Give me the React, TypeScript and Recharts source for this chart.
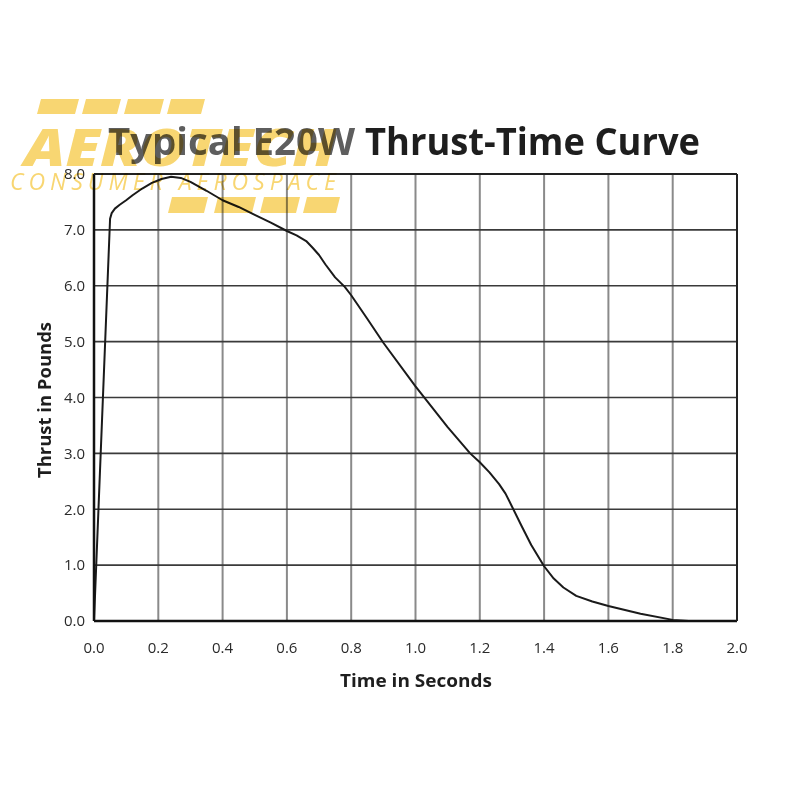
import React from "react";
import { LineChart, Line, XAxis, YAxis, CartesianGrid } from "recharts";

const timeSeconds = [0, 0.05, 0.055, 0.065, 0.08, 0.1, 0.12, 0.15, 0.18, 0.21, 0.24, 0.27, 0.3, 0.35, 0.4, 0.45, 0.5, 0.55, 0.6, 0.63, 0.66, 0.68, 0.7, 0.72, 0.75, 0.78, 0.8, 0.85, 0.9, 1.0, 1.1, 1.17, 1.2, 1.23, 1.26, 1.28, 1.3, 1.33, 1.36, 1.4, 1.43, 1.46, 1.5, 1.55, 1.6, 1.7, 1.8, 1.85, 1.9];
const thrustPounds = [0, 7.2, 7.3, 7.38, 7.45, 7.53, 7.62, 7.74, 7.84, 7.91, 7.95, 7.93, 7.86, 7.7, 7.53, 7.41, 7.27, 7.13, 6.98, 6.9, 6.8, 6.68, 6.55, 6.38, 6.15, 5.98, 5.83, 5.41, 4.98, 4.2, 3.47, 3.0, 2.84, 2.66, 2.45, 2.28, 2.05, 1.7, 1.36, 0.98, 0.76, 0.6, 0.45, 0.35, 0.27, 0.13, 0.02, 0, 0];
const xTicks = [0, 0.2, 0.4, 0.6, 0.8, 1.0, 1.2, 1.4, 1.6, 1.8, 2.0];
const yTicks = [0, 1, 2, 3, 4, 5, 6, 7, 8];

const titleDark = "Typical E20W";
const titleRest = "Thrust-Time Curve";
const xTitle = "Time in Seconds";
const yTitle = "Thrust in Pounds";
const logoWord = "AEROTECH";
const logoSub = "CONSUMER AEROSPACE";

const data = timeSeconds.map((t, i) => ({ t, thrust: thrustPounds[i] }));

const FONT = "'Open Sans', 'DejaVu Sans', sans-serif";
const LOGO = "#f8d672";

function dash(x1: number, x2: number, y1: number, y2: number, slant: number) {
  return `${x1 + slant},${y1} ${x2 + slant},${y1} ${x2},${y2} ${x1},${y2}`;
}

export default function App() {
  const topDashes = [[37, 75], [82, 117], [124, 160], [167, 201]];
  const botDashes = [[168, 204], [214, 252], [260, 296], [303, 336]];
  return (
    <div style={{ position: "absolute", left: 0, top: 0, width: 800, height: 800, background: "#fff" }}>
      <LineChart
        width={800}
        height={800}
        data={data}
        margin={{ top: 174, right: 63, left: 34, bottom: 139 }}
      >
        <CartesianGrid horizontal={false} vertical={true} stroke="#8a8a8a" strokeWidth={2} verticalValues={xTicks} />
        <CartesianGrid horizontal={true} vertical={false} stroke="#3a3a3a" strokeWidth={1.6} horizontalValues={yTicks} />
        <XAxis
          type="number"
          dataKey="t"
          domain={[0, 2]}
          ticks={xTicks}
          tickFormatter={(v: number) => v.toFixed(1)}
          tickLine={false}
          tickSize={0}
          tickMargin={21}
          height={40}
          axisLine={{ stroke: "#111", strokeWidth: 2.5 }}
          tick={{ fill: "#2a2a2a", fontSize: 15, fontFamily: FONT }}
          interval={0}
        />
        <YAxis
          type="number"
          domain={[0, 8]}
          ticks={yTicks}
          tickFormatter={(v: number) => v.toFixed(1)}
          tickLine={false}
          tickSize={0}
          tickMargin={9}
          width={60}
          axisLine={{ stroke: "#111", strokeWidth: 2.5 }}
          tick={{ fill: "#2a2a2a", fontSize: 15, fontFamily: FONT }}
          interval={0}
        />
        <Line
          type="linear"
          dataKey="thrust"
          stroke="#1a1a1a"
          strokeWidth={2}
          strokeLinejoin="round"
          dot={false}
          isAnimationActive={false}
        />
      </LineChart>
      <svg width={800} height={800} style={{ position: "absolute", left: 0, top: 0, pointerEvents: "none" }}>
        <line x1={94} y1={174} x2={737} y2={174} stroke="#222" strokeWidth={2} />
        <line x1={737} y1={174} x2={737} y2={621} stroke="#222" strokeWidth={2} />
        <text x={108} y={155} fontFamily={FONT} fontWeight={700} fontSize={37} fill="#5e5e5e" textLength={247} lengthAdjust="spacingAndGlyphs">{titleDark}</text>
        <text x={365} y={155} fontFamily={FONT} fontWeight={700} fontSize={37} fill="#1e1e1e" textLength={335} lengthAdjust="spacingAndGlyphs">{titleRest}</text>
        <text x={416} y={687} textAnchor="middle" fontFamily={FONT} fontWeight={700} fontSize={17} fill="#1e1e1e" textLength={152} lengthAdjust="spacingAndGlyphs">{xTitle}</text>
        <text x={0} y={0} transform="translate(51,400) rotate(-90)" textAnchor="middle" fontFamily={FONT} fontWeight={700} fontSize={17} fill="#1e1e1e" textLength={156} lengthAdjust="spacingAndGlyphs">{yTitle}</text>
      </svg>
      <svg width={800} height={800} style={{ position: "absolute", left: 0, top: 0, pointerEvents: "none", mixBlendMode: "multiply" }}>
        {topDashes.map(([a, b], i) => (
          <polygon key={`t${i}`} points={dash(a, b, 99, 114, 4)} fill={LOGO} />
        ))}
        <text x={24} y={166} fontFamily={FONT} fontWeight={800} fontStyle="italic" fontSize={52} fill={LOGO} textLength={312} lengthAdjust="spacingAndGlyphs">{logoWord}</text>
        <text x={10} y={190} fontFamily={FONT} fontWeight={400} fontStyle="italic" fontSize={23} fill={LOGO} textLength={326} lengthAdjust="spacing">{logoSub}</text>
        {botDashes.map(([a, b], i) => (
          <polygon key={`b${i}`} points={dash(a, b, 197, 213, 4)} fill={LOGO} />
        ))}
      </svg>
    </div>
  );
}
